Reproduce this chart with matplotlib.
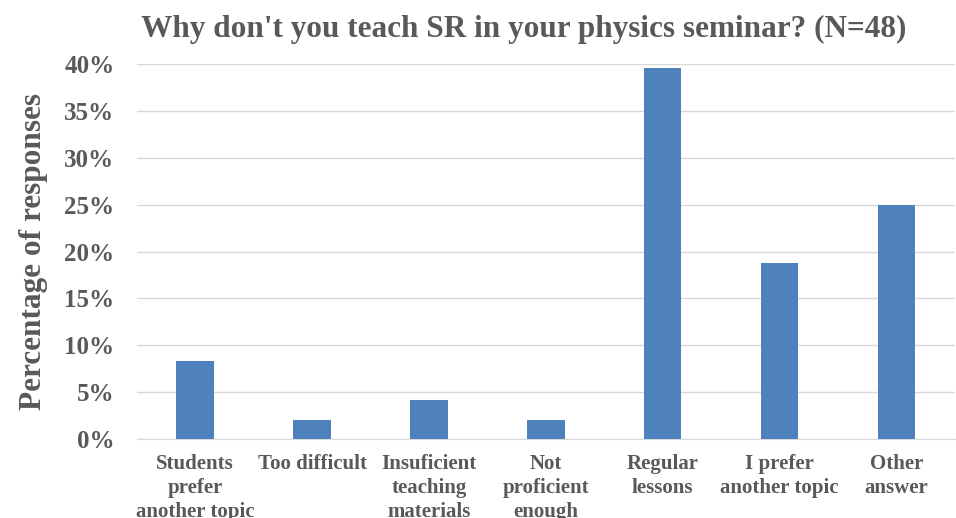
import numpy as np
import matplotlib.pyplot as plt
from matplotlib.ticker import PercentFormatter

categories = ["Students\nprefer\nanother topic", "Too difficult", "Insuficient\nteaching\nmaterials",
              "Not\nproficient\nenough", "Regular\nlessons", "I prefer\nanother topic", "Other\nanswer"]
values = [0.0833, 0.0208, 0.0417, 0.0208, 0.3958, 0.1875, 0.25]

plt.rcParams['font.family'] = ['Liberation Serif', 'DejaVu Serif']
plt.rcParams['font.weight'] = 'bold'
gray = '#595959'

fig = plt.figure(figsize=(9.56, 5.18), dpi=100)
ax = fig.add_axes([0.143, 0.1525, 0.856, 0.7239])

x = np.arange(len(categories))
ax.bar(x, values, width=0.32, color='#4F81BD', zorder=3)
ax.set_xlim(-0.5, len(categories) - 0.5)
ax.set_ylim(0, 0.4)
ax.set_yticks(np.arange(0, 0.41, 0.05))
ax.yaxis.set_major_formatter(PercentFormatter(1.0, decimals=0))
ax.set_xticks(x)
ax.set_xticklabels(categories, fontsize=15, color=gray, linespacing=1.25, va='top')
ax.tick_params(axis='y', labelsize=18, labelcolor=gray, length=0, pad=16)
ax.tick_params(axis='x', length=0, pad=11)
ax.grid(axis='y', color='#D9D9D9', linewidth=1, zorder=0)
for s in ['top', 'right', 'left']:
    ax.spines[s].set_visible(False)
ax.spines['bottom'].set_color('#D9D9D9')
ax.set_ylabel('Percentage of responses', fontsize=22.5, color=gray, fontweight='bold', labelpad=12)
fig.text(0.548, 0.943, "Why don't you teach SR in your physics seminar? (N=48)",
         ha='center', va='center', fontsize=22.5, color=gray, fontweight='bold')

plt.savefig("out.png", dpi=100)
